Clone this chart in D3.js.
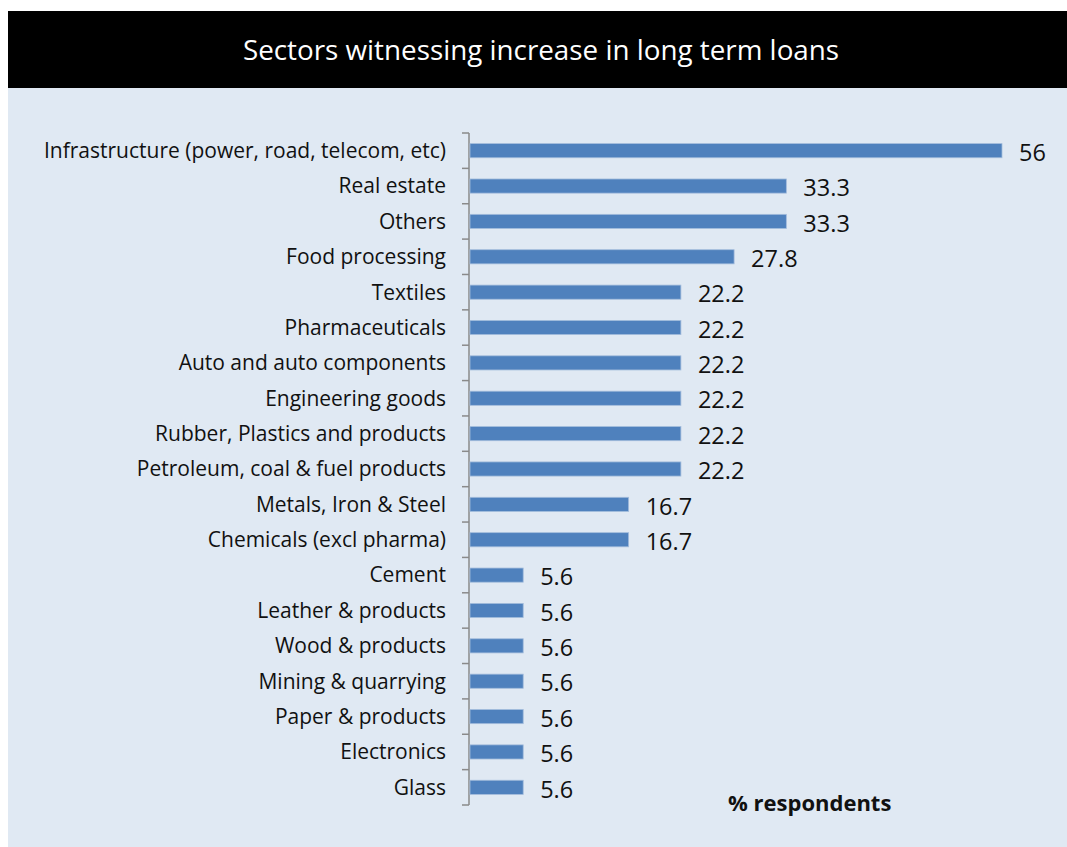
<!DOCTYPE html>
<html>
<head>
<meta charset="utf-8">
<script src="https://d3js.org/d3.v7.min.js"></script>
<style>
  body { margin: 0; background: #fff; }
  text { font-family: "Open Sans", "DejaVu Sans", sans-serif; }
</style>
</head>
<body>
<script>
// sectors, top to bottom
var sectors = ["Infrastructure (power, road, telecom, etc)", "Real estate", "Others",
  "Food processing", "Textiles", "Pharmaceuticals", "Auto and auto components",
  "Engineering goods", "Rubber, Plastics and products", "Petroleum, coal & fuel products",
  "Metals, Iron & Steel", "Chemicals (excl pharma)", "Cement", "Leather & products",
  "Wood & products", "Mining & quarrying", "Paper & products", "Electronics", "Glass"];
var values = [56, 33.3, 33.3, 27.8, 22.2, 22.2, 22.2, 22.2, 22.2, 22.2,
  16.7, 16.7, 5.6, 5.6, 5.6, 5.6, 5.6, 5.6, 5.6];
var valueLabels = ["56", "33.3", "33.3", "27.8", "22.2", "22.2", "22.2", "22.2", "22.2", "22.2",
  "16.7", "16.7", "5.6", "5.6", "5.6", "5.6", "5.6", "5.6", "5.6"];
var titleText = "Sectors witnessing increase in long term loans";
var axisTitle = "% respondents";

var data = sectors.map(function(s, i) { return {sector: s, value: values[i], label: valueLabels[i]}; });

var W = 1067, H = 847;
var svg = d3.select("body").append("svg").attr("width", W).attr("height", H);

// panel + title bar
svg.append("rect").attr("x", 8).attr("y", 11).attr("width", W - 8).attr("height", H - 11)
  .attr("fill", "#e0e9f3");
svg.append("rect").attr("x", 8).attr("y", 11).attr("width", W - 8).attr("height", 77)
  .attr("fill", "#000");
svg.append("text").attr("x", 541).attr("y", 50).attr("dy", "0.35em")
  .attr("text-anchor", "middle").attr("fill", "#fff")
  .style("font-size", "27.8px").text(titleText);

var x = d3.scaleLinear().domain([0, 60]).range([470, 1040]);
var y = d3.scaleBand().domain(sectors).range([133, 805])
  .paddingInner(0.6).paddingOuter(0.3);

// axis line and ticks between categories
var axisX = 469;
svg.append("line").attr("x1", axisX).attr("x2", axisX).attr("y1", 133).attr("y2", 805)
  .attr("stroke", "#8a8a8a").attr("stroke-width", 1.5);
d3.range(sectors.length + 1).forEach(function(i) {
  var ty = 133 + i * y.step();
  svg.append("line").attr("x1", axisX - 7).attr("x2", axisX).attr("y1", ty).attr("y2", ty)
    .attr("stroke", "#8a8a8a").attr("stroke-width", 1.5);
});

// bars
svg.selectAll(".bar").data(data).enter().append("rect")
  .attr("class", "bar")
  .attr("x", x(0))
  .attr("y", function(d) { return y(d.sector); })
  .attr("width", function(d) { return x(d.value) - x(0); })
  .attr("height", y.bandwidth())
  .attr("fill", "#4f81bd")
  .attr("stroke", "#a4bddc").attr("stroke-width", 0.8);

// category labels
svg.selectAll(".cat").data(data).enter().append("text")
  .attr("class", "cat")
  .attr("x", 446)
  .attr("y", function(d) { return y(d.sector) + y.bandwidth() / 2; })
  .attr("dy", "0.35em").attr("text-anchor", "end").attr("fill", "#111")
  .style("font-size", "21px")
  .text(function(d) { return d.sector; });

// value labels
svg.selectAll(".val").data(data).enter().append("text")
  .attr("class", "val")
  .attr("x", function(d) { return x(d.value) + 17; })
  .attr("y", function(d) { return y(d.sector) + y.bandwidth() / 2 + 2; })
  .attr("dy", "0.35em").attr("fill", "#111")
  .style("font-size", "23.5px")
  .text(function(d) { return d.label; });

svg.append("text").attr("x", 728).attr("y", 803).attr("dy", "0.35em")
  .attr("fill", "#111").style("font-size", "22px").style("font-weight", "bold")
  .text(axisTitle);
</script>
</body>
</html>
